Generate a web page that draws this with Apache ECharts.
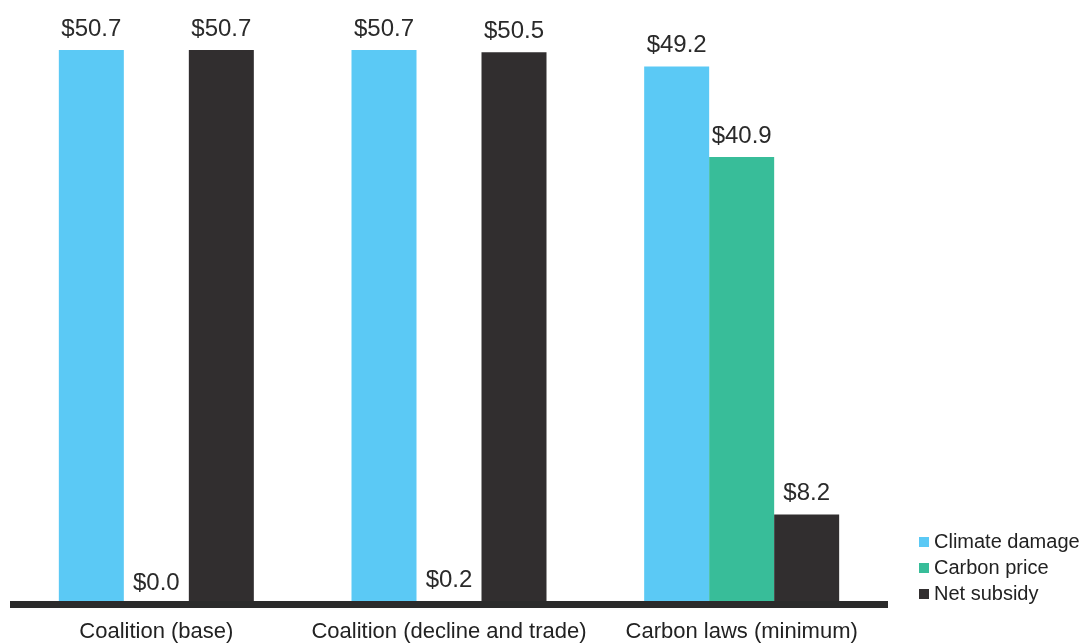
<!DOCTYPE html>
<html><head><meta charset="utf-8">
<script src="https://cdn.jsdelivr.net/npm/echarts@6/dist/echarts.min.js"></script>
<style>html,body{margin:0;padding:0;background:#fff}#c{width:1083px;height:644px}</style>
</head><body><div id="c"></div>
<script>
const categories = ['Coalition (base)', 'Coalition (decline and trade)', 'Carbon laws (minimum)'];
const climateDamage = [50.7, 50.7, 49.2];
const carbonPrice = [0.0, 0.2, 40.9];
const netSubsidy = [50.7, 50.5, 8.2];
const seriesNames = ['Climate damage', 'Carbon price', 'Net subsidy'];
const colors = ['#5BC9F5', '#38BD99', '#312E2F'];

const font = '"Liberation Sans", Arial, sans-serif';
const label = {
  show: true, position: 'top', distance: 9,
  fontFamily: font, fontSize: 24, color: '#2a2a2a',
  formatter: p => '$' + p.value.toFixed(1)
};
const chart = echarts.init(document.getElementById('c'), null, {renderer: 'canvas'});
chart.setOption({
  animation: false,
  grid: {left: 10, right: 195, top: 3, bottom: 40, containLabel: false},
  legend: {
    orient: 'vertical', left: 914, top: 527, itemWidth: 10, itemHeight: 10, itemGap: 6,
    icon: 'rect',
    textStyle: {fontFamily: font, fontSize: 20, color: '#222', padding: [0, 0, 0, 0]},
    data: seriesNames
  },
  xAxis: {
    type: 'category', data: categories, z: 10,
    axisLine: {show: true, lineStyle: {color: '#2b2b2b', width: 7, cap: 'butt'}},
    axisTick: {show: false},
    axisLabel: {interval: 0, fontFamily: font, fontSize: 22, color: '#222', margin: 17}
  },
  yAxis: {type: 'value', min: 0, max: 55, show: false, splitLine: {show: false}},
  series: [
    {name: seriesNames[0], type: 'bar', data: climateDamage, itemStyle: {color: colors[0]}, barWidth: 65, barGap: '0%', label},
    {name: seriesNames[1], type: 'bar', data: carbonPrice, itemStyle: {color: colors[1]}, barWidth: 65, barGap: '0%', label},
    {name: seriesNames[2], type: 'bar', data: netSubsidy, itemStyle: {color: colors[2]}, barWidth: 65, barGap: '0%', label}
  ]
});
</script></body></html>
